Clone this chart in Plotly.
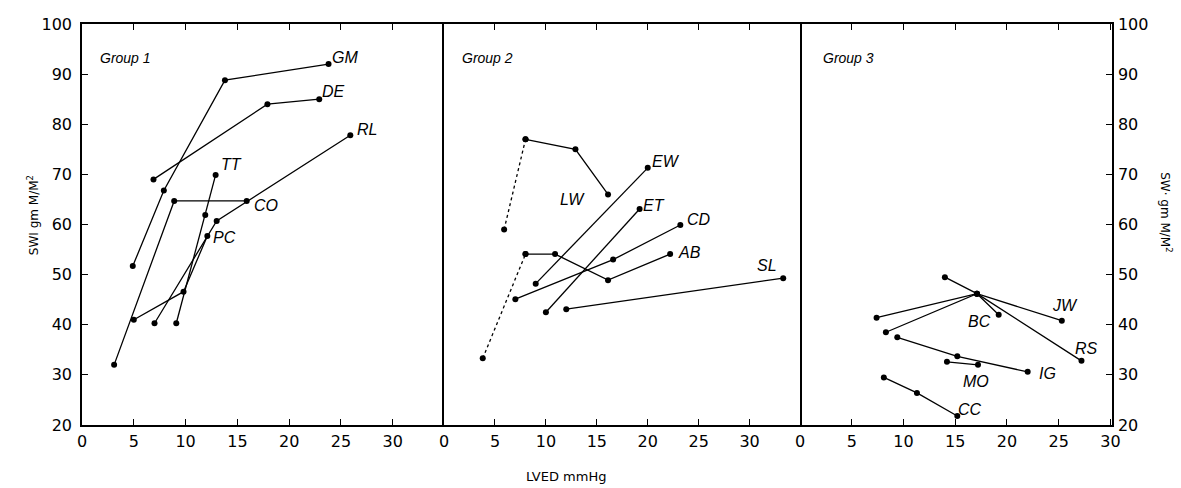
import plotly.graph_objects as go

# ---------------- data (LVED mmHg, SWI gm M/M^2) ----------------
# Group 1
gm_x = [4.9, 7.9, 13.8, 23.8]; gm_y = [51.7, 66.8, 88.8, 92.0]
de_x = [6.9, 17.9, 22.9];      de_y = [69.0, 84.0, 85.0]
rl_x = [7.0, 13.0, 25.9];      rl_y = [40.3, 60.7, 77.8]
tt_x = [9.1, 11.9, 12.9];      tt_y = [40.3, 61.9, 69.9]
co_x = [3.1, 8.9, 15.9];       co_y = [32.0, 64.7, 64.7]
pc_x = [5.0, 9.8, 12.1];       pc_y = [41.0, 46.6, 57.7]

# Group 2
lw_x = [5.9, 8.0, 12.9, 16.1]; lw_y = [59.0, 77.0, 75.0, 66.0]
ew_x = [9.0, 20.0];            ew_y = [48.2, 71.3]
et_x = [10.0, 19.2];           et_y = [42.5, 63.1]
cd_x = [7.0, 16.6, 23.2];      cd_y = [45.1, 53.0, 59.9]
ab_x = [3.8, 8.0, 10.9, 16.1, 22.2]; ab_y = [33.3, 54.1, 54.1, 48.9, 54.1]
sl_x = [12.0, 33.3];           sl_y = [43.1, 49.3]

# Group 3
jw_x = [7.4, 17.1, 25.3];      jw_y = [41.4, 46.2, 40.8]
bc_x = [8.3, 17.1, 19.2];      bc_y = [38.5, 46.2, 42.0]
rs_x = [14.0, 17.1, 27.2];     rs_y = [49.5, 46.2, 32.8]
ig_x = [9.4, 15.2, 22.0];      ig_y = [37.5, 33.7, 30.6]
mo_x = [14.2, 17.2];           mo_y = [32.6, 32.0]
cc_x = [8.1, 11.3, 15.2];      cc_y = [29.5, 26.4, 21.8]

x_ticks = [0, 5, 10, 15, 20, 25, 30]
y_ticks = [20, 30, 40, 50, 60, 70, 80, 90, 100]
group_titles = ["Group 1", "Group 2", "Group 3"]

# ---------------- figure ----------------
series = [
    ("GM", gm_x, gm_y, 1, False), ("DE", de_x, de_y, 1, False), ("RL", rl_x, rl_y, 1, False),
    ("TT", tt_x, tt_y, 1, False), ("CO", co_x, co_y, 1, False), ("PC", pc_x, pc_y, 1, False),
    ("LW", lw_x, lw_y, 2, True), ("EW", ew_x, ew_y, 2, False), ("ET", et_x, et_y, 2, False),
    ("CD", cd_x, cd_y, 2, False), ("AB", ab_x, ab_y, 2, True), ("SL", sl_x, sl_y, 2, False),
    ("JW", jw_x, jw_y, 3, False), ("BC", bc_x, bc_y, 3, False), ("RS", rs_x, rs_y, 3, False),
    ("IG", ig_x, ig_y, 3, False), ("MO", mo_x, mo_y, 3, False), ("CC", cc_x, cc_y, 3, False),
]

# label placement (layout only)
label_pos = {
    "GM": (25.4, 93.4), "DE": (24.3, 86.6), "RL": (27.5, 79.0), "TT": (14.4, 71.9),
    "CO": (17.8, 63.7), "PC": (13.8, 57.5),
    "EW": (21.8, 72.5), "LW": (12.6, 64.9), "ET": (20.6, 63.7), "CD": (25.0, 60.9),
    "AB": (24.1, 54.4), "SL": (31.7, 51.9),
    "JW": (25.6, 43.9), "BC": (17.3, 40.6), "RS": (27.7, 35.3), "IG": (23.9, 30.3),
    "MO": (17.0, 28.6), "CC": (16.4, 23.0),
}

fig = go.Figure()
line_style = dict(color="black", width=1.3)
marker_style = dict(color="black", size=6)

for name, xs, ys, g, dotted_first in series:
    xa = "x" if g == 1 else f"x{g}"
    ya = "y" if g == 1 else f"y{g}"
    if dotted_first:
        fig.add_trace(go.Scatter(x=xs[:2], y=ys[:2], xaxis=xa, yaxis=ya, mode="lines+markers",
                                 line=dict(color="black", width=1.3, dash="dot"),
                                 marker=marker_style, showlegend=False, hoverinfo="skip"))
        fig.add_trace(go.Scatter(x=xs[1:], y=ys[1:], xaxis=xa, yaxis=ya, mode="lines+markers",
                                 line=line_style, marker=marker_style, name=name, showlegend=False))
    else:
        fig.add_trace(go.Scatter(x=xs, y=ys, xaxis=xa, yaxis=ya, mode="lines+markers",
                                 line=line_style, marker=marker_style, name=name, showlegend=False))
    lx, ly = label_pos[name]
    fig.add_annotation(x=lx, y=ly, xref=xa, yref=ya, text=f"<i>{name}</i>", showarrow=False,
                       font=dict(family="Liberation Sans", size=16, color="black"))

# group titles
for i, t in enumerate(group_titles):
    xa = "x" if i == 0 else f"x{i+1}"
    ya = "y" if i == 0 else f"y{i+1}"
    fig.add_annotation(x=[1.5, 1.6, 2.0][i], y=93.2, xref=xa, yref=ya, text=f"<i>{t}</i>",
                       showarrow=False, xanchor="left",
                       font=dict(family="Liberation Sans", size=14, color="black"))

tickfont = dict(family="DejaVu Sans", size=16, color="black")
xcommon = dict(tickmode="array", tickvals=x_ticks, ticktext=[str(v) for v in x_ticks],
               ticks="inside", ticklen=6, tickwidth=1.2, tickcolor="black",
               showline=True, linecolor="black", linewidth=1.5, mirror="ticks",
               showgrid=False, zeroline=False, tickfont=tickfont, ticklabelstandoff=1)
ycommon = dict(range=[20, 100], tickmode="array", tickvals=y_ticks,
               ticks="inside", ticklen=6, tickwidth=1.2, tickcolor="black",
               showline=True, linecolor="black", linewidth=1.5,
               showgrid=False, zeroline=False, tickfont=tickfont)

d1, d2 = 0.3515, 0.6971
fig.update_layout(
    width=1181, height=488,
    margin=dict(l=82, r=69, t=24, b=63),
    paper_bgcolor="white", plot_bgcolor="white",
    xaxis=dict(domain=[0, d1], range=[0, 34.95], anchor="y", **xcommon),
    xaxis2=dict(domain=[d1, d2], range=[0, 34.95], anchor="y2", **xcommon),
    xaxis3=dict(domain=[d2, 1], range=[0, 30.15], anchor="y3", **xcommon),
    yaxis=dict(anchor="x", ticklabelstandoff=5, **ycommon),
    yaxis2=dict(anchor="x2", matches="y", showticklabels=False, mirror=True,
                **{k: v for k, v in ycommon.items() if k not in ("ticks",)}, ticks=""),
    yaxis3=dict(anchor="x3", matches="y", side="right", ticklabelstandoff=1, **ycommon),
    font=dict(family="DejaVu Sans", color="black"),
)

# axis titles
fig.add_annotation(x=-0.057, y=0.524, xref="paper", yref="paper", text="SWI gm M/M<sup>2</sup>",
                   textangle=-90, showarrow=False, font=dict(family="DejaVu Sans", size=12))
fig.add_annotation(x=1.062, y=0.531, xref="paper", yref="paper", text="SW· gm M/M<sup>2</sup>",
                   textangle=90, showarrow=False, font=dict(family="DejaVu Sans", size=12))
fig.add_annotation(x=0.47, y=-0.127, xref="paper", yref="paper", yshift=-10, text="LVED mmHg",
                   showarrow=False, font=dict(family="DejaVu Sans", size=13))

fig.write_html("out.html")
